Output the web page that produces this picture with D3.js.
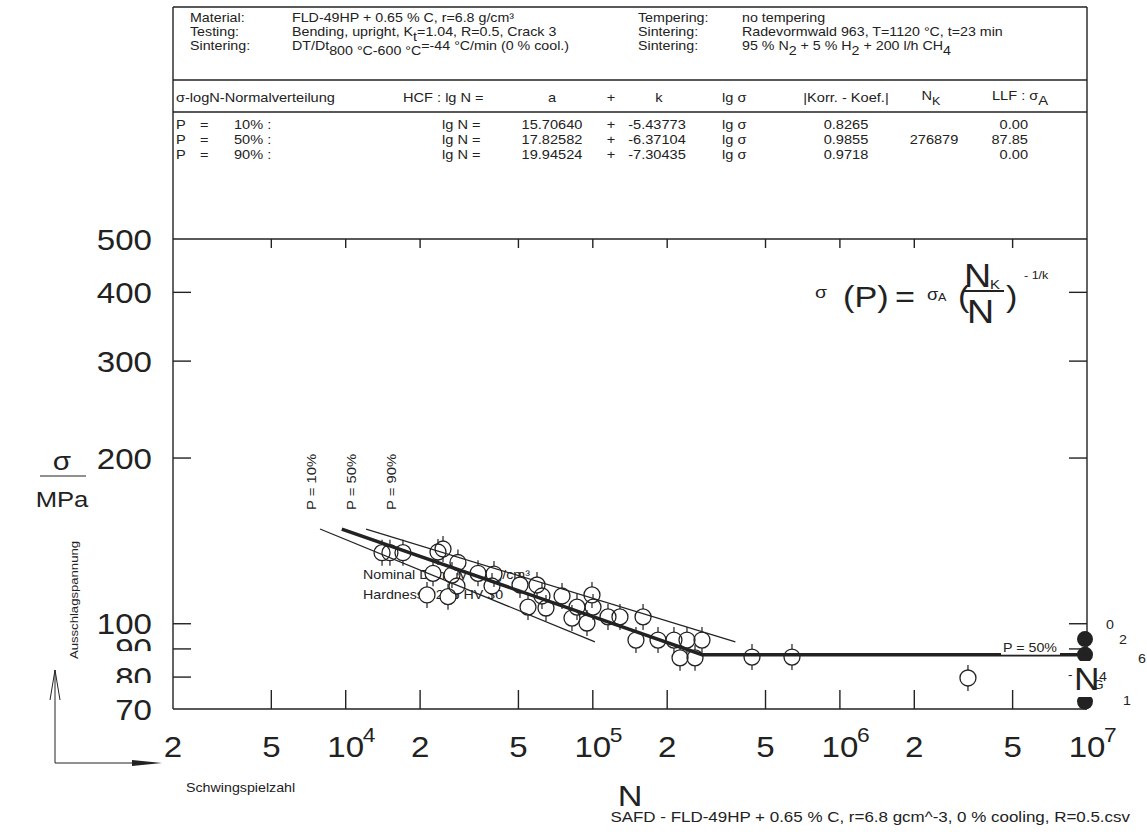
<!DOCTYPE html>
<html>
<head>
<meta charset="utf-8">
<script src="https://cdn.jsdelivr.net/npm/d3@7"></script>
<style>
body { margin: 0; background: #fff; }
svg { display: block; font-family: "Liberation Sans", Arial, sans-serif; }
text { fill: #222; }
</style>
</head>
<body>
<svg id="chart" width="1147" height="834"></svg>
<script>
// test results (N = cycles to failure, stress amplitude in MPa)
const cycles = [14030, 15100, 17050, 23630, 24760, 28460, 22560, 26920, 28200, 21330,
	25940, 34310, 39820, 39090, 50740, 59450, 62270, 54670, 64640, 75060,
	86300, 82350, 94720, 99230, 100200, 115200, 128800, 159700, 149500, 183600,
	213000, 240500, 276600, 225400, 259200, 440800, 639800, 3298000];
const stress = [134.6, 134.6, 134.6, 135.0, 136.7, 129.2, 123.5, 122.6, 117.1, 112.8,
	112.0, 123.5, 123.1, 117.1, 117.6, 117.6, 112.3, 107.2, 106.8, 112.3,
	107.2, 102.4, 100.3, 112.8, 107.2, 102.9, 102.9, 102.9, 93.4, 93.4,
	93.4, 93.4, 93.4, 86.7, 86.7, 87.0, 87.0, 79.7];

// runouts at N_G = 1e7
const runoutCycles = [1e7, 1e7, 1e7];
const runoutStress = [93.8, 87.85, 72.2];
const countLabels = ["0", "2", "6", "4", "1"];
const countStress = [100, 93.8, 86.6, 80.3, 72.6];

// S-N lines for P = 10 / 50 / 90 %
const p10Line = [{n: 7870, s: 148.6}, {n: 102000, s: 92.7}];
const p50Line = [{n: 9640, s: 148.6}, {n: 276879, s: 87.85}, {n: 1e7, s: 87.85}];
const p90Line = [{n: 12090, s: 148.6}, {n: 377600, s: 92.7}];
const probLabels = ["P = 10%", "P = 50%", "P = 90%"];
const probLabelCycles = [7580, 11000, 15980];

// regression table
const probs = ["10%", "50%", "90%"];
const coefA = ["15.70640", "17.82582", "19.94524"];
const coefK = ["-5.43773", "-6.37104", "-7.30435"];
const corr = ["0.8265", "0.9855", "0.9718"];
const kneeN = ["", "276879", ""];
const llf = ["0.00", "87.85", "0.00"];

// axes (minor labels first, as the original paints them)
const yTicks = [90, 80, 70, 100, 200, 300, 400, 500];
const xTicks = [2e3, 5e3, 1e4, 2e4, 5e4, 1e5, 2e5, 5e5, 1e6, 2e6, 5e6, 1e7];
const xTickText = ["2", "5", "10", "2", "5", "10", "2", "5", "10", "2", "5", "10"];
const xTickExp = ["", "", "4", "", "", "5", "", "", "6", "", "", "7"];

const SX = 1.14; // glyphs in the original are a bit wider than Arial

const x = d3.scaleLog().domain([2e3, 1e7]).range([173, 1087]);
const y = d3.scaleLog().domain([70, 500]).range([709, 239]);

const svg = d3.select("#chart");
const ink = "#222";

function rich(g, px, py, parts, size, anchor = "start", sx = SX) {
	const t = g.append("text")
		.attr("transform", `translate(${px},${py}) scale(${sx},1)`)
		.attr("font-size", size)
		.attr("text-anchor", anchor);
	let shift = 0;
	parts.forEach(p => {
		const o = typeof p === "string" ? {t: p} : p;
		const target = o.sub ? size * 0.42 : (o.sup ? -size * 0.45 : 0);
		const span = t.append("tspan").attr("dy", target - shift).text(o.t);
		if (o.size) span.attr("font-size", o.size);
		shift = target;
	});
	return t;
}

function hline(x1, x2, yy, w = 1.4) {
	svg.append("line").attr("x1", x1).attr("x2", x2).attr("y1", yy).attr("y2", yy)
		.attr("stroke", ink).attr("stroke-width", w);
}
function vline(xx, y1, y2, w = 1.4) {
	svg.append("line").attr("x1", xx).attr("x2", xx).attr("y1", y1).attr("y2", y2)
		.attr("stroke", ink).attr("stroke-width", w);
}

// ---- header box
const head = svg.append("g");
hline(173, 1087, 7);
hline(173, 1087, 80);
hline(173, 1087, 112);
vline(173, 7, 709);
vline(1087, 7, 709);

const hs = 12.5;
const rowsY = [22, 36, 50];
["Material:", "Testing:", "Sintering:"].forEach((s, i) => rich(head, 190, rowsY[i], [s], hs));
[
	["FLD-49HP + 0.65 % C, r=6.8 g/cm³"],
	["Bending, upright, K", {t: "t", sub: true}, "=1.04, R=0.5, Crack 3"],
	["DT/Dt", {t: "800 °C-600 °C", sub: true}, "=-44 °C/min (0 % cool.)"]
].forEach((p, i) => rich(head, 292, rowsY[i], p, hs));
["Tempering:", "Sintering:", "Sintering:"].forEach((s, i) => rich(head, 638, rowsY[i], [s], hs));
[
	["no tempering"],
	["Radevormwald 963, T=1120 °C, t=23 min"],
	["95 % N", {t: "2", sub: true}, " + 5 % H", {t: "2", sub: true}, " + 200 l/h CH", {t: "4", sub: true}]
].forEach((p, i) => rich(head, 742, rowsY[i], p, hs));

// ---- regression table
const ts = 12.8;
rich(head, 176, 102, ["σ-logN-Normalverteilung"], ts);
rich(head, 403, 102, ["HCF :  lg N  ="], ts);
rich(head, 552, 102, ["a"], ts, "middle");
rich(head, 611, 102, ["+"], ts, "middle");
rich(head, 659, 102, ["k"], ts, "middle");
rich(head, 722, 102, ["lg σ"], ts);
rich(head, 846, 102, ["|Korr. - Koef.|"], ts, "middle");
rich(head, 931, 100, ["N", {t: "K", size: 11, sub: true}], ts, "middle");
rich(head, 992, 100, ["LLF : σ", {t: "A", size: 13, sub: true}], ts);

const tabY = [129, 144, 159];
probs.forEach((p, i) => {
	rich(head, 176, tabY[i], ["P"], ts);
	rich(head, 200, tabY[i], ["="], ts);
	rich(head, 234, tabY[i], [p + " :"], ts);
	rich(head, 442, tabY[i], ["lg N  ="], ts);
	rich(head, 552, tabY[i], [coefA[i]], ts, "middle");
	rich(head, 611, tabY[i], ["+"], ts, "middle");
	rich(head, 657, tabY[i], [coefK[i]], ts, "middle");
	rich(head, 722, tabY[i], ["lg σ"], ts);
	rich(head, 846, tabY[i], [corr[i]], ts, "middle");
	rich(head, 934, tabY[i], [kneeN[i]], ts, "middle");
	rich(head, 1028, tabY[i], [llf[i]], ts, "end");
});

// ---- plot frame and ticks
hline(173, 1087, y(500));
hline(173, 1087, y(70));
yTicks.filter(v => v !== 500 && v !== 70).forEach(v => {
	hline(173, 191, y(v));
	hline(1069, 1087, y(v));
});
xTicks.filter(v => v !== 2e3 && v !== 1e7).forEach(v => {
	vline(x(v), y(500), y(500) + 9);
	vline(x(v), y(70), y(70) - 19);
});

const axisText = svg.append("g");
yTicks.forEach(v => {
	axisText.append("rect").attr("x", 92).attr("y", y(v) - 26).attr("width", 64).attr("height", 39)
		.attr("fill", "#fff");
	rich(axisText, 152, y(v) + 10.5, [String(v)], 29, "end");
});
xTicks.forEach((v, i) => {
	rich(axisText, x(v), 757, [xTickText[i]], 29, "middle");
	if (xTickExp[i]) rich(axisText, x(v) + 17, 742, [xTickExp[i]], 20);
});

// ---- axis titles
rich(axisText, 62, 470, ["σ"], 26, "middle");
hline(40, 86, 476, 1.2);
rich(axisText, 62, 507, ["MPa"], 22.5, "middle");
axisText.append("text")
	.attr("transform", `translate(78,600) rotate(-90) scale(${SX},1)`)
	.attr("font-size", 11.5).attr("text-anchor", "middle")
	.text("Ausschlagspannung");
vline(55, 670, 763, 1);
svg.append("path").attr("d", "M50,700 L55,670 L60,700").attr("fill", "none").attr("stroke", ink).attr("stroke-width", 1);
hline(55, 150, 763, 1);
svg.append("path").attr("d", "M132,760 L162,763 L132,766 Z").attr("fill", ink);
rich(axisText, 186, 792, ["Schwingspielzahl"], 12.5);
rich(axisText, 630, 806, ["N"], 30, "middle");
rich(axisText, 1130, 822, ["SAFD - FLD-49HP + 0.65 % C, r=6.8 gcm^-3, 0 % cooling, R=0.5.csv"], 14.5, "end", 1.17);

// ---- formula
const f = svg.append("g");
rich(f, 815, 298, ["σ"], 17);
rich(f, 843, 307, ["(P)"], 30);
rich(f, 895, 307, ["="], 30);
rich(f, 927, 300, ["σ"], 16);
rich(f, 938, 301, ["A"], 11);
rich(f, 958, 307, ["("], 30);
rich(f, 964, 287, ["N"], 33);
rich(f, 990, 289, ["K"], 13);
svg.append("line").attr("x1", 963).attr("x2", 1004).attr("y1", 291).attr("y2", 291)
	.attr("stroke", ink).attr("stroke-width", 2);
rich(f, 967, 323, ["N"], 33);
rich(f, 1006, 307, [")"], 30);
rich(f, 1024, 279, ["- 1/k"], 11);

// ---- annotation behind data
rich(axisText, 363, 579, ["Nominal Density 6.8 g/cm³"], 12.5);
rich(axisText, 363, 599, ["Hardness : 226 HV 30"], 12.5);

// ---- data points
const pts = cycles.map((n, i) => ({n, s: stress[i]}));
const dots = svg.append("g");
dots.selectAll("circle.bg").data(pts).join("circle").attr("class", "bg")
	.attr("cx", d => x(d.n)).attr("cy", d => y(d.s)).attr("r", 8)
	.attr("fill", "#fff");
dots.selectAll("path.whisk").data(pts).join("path").attr("class", "whisk")
	.attr("d", d => `M${x(d.n)},${y(d.s) - 13}V${y(d.s) - 8}M${x(d.n)},${y(d.s) + 8}V${y(d.s) + 13}`)
	.attr("stroke", ink).attr("stroke-width", 1.2);
dots.selectAll("circle.ring").data(pts).join("circle").attr("class", "ring")
	.attr("cx", d => x(d.n)).attr("cy", d => y(d.s)).attr("r", 8)
	.attr("fill", "none").attr("stroke", ink).attr("stroke-width", 1.3);

const runouts = runoutCycles.map((n, i) => ({n, s: runoutStress[i]}));
dots.selectAll("circle.runout").data(runouts).join("circle").attr("class", "runout")
	.attr("cx", d => x(d.n) - 2).attr("cy", d => y(d.s)).attr("r", 8)
	.attr("fill", ink);

// ---- S-N lines
const line = d3.line().x(d => x(d.n)).y(d => y(d.s));
svg.selectAll("path.sn").data([p10Line, p90Line]).join("path").attr("class", "sn")
	.attr("d", line).attr("fill", "none").attr("stroke", ink).attr("stroke-width", 1.2);
svg.append("path").datum(p50Line).attr("d", line)
	.attr("fill", "none").attr("stroke", ink).attr("stroke-width", 3.5);

probLabels.forEach((t, i) => {
	svg.append("text")
		.attr("transform", `translate(${x(probLabelCycles[i])},510) rotate(-90) scale(${SX},1)`)
		.attr("font-size", 13).text(t);
});

// label on the endurance line
svg.append("rect").attr("x", 1001).attr("y", 640).attr("width", 59).attr("height", y(87.85) - 640)
	.attr("fill", "#fff");
rich(svg, 1003, 652, ["P = 50%"], 12.5);

// N_G label and runout counts
svg.append("rect").attr("x", 1064).attr("y", 661).attr("width", 44).attr("height", 36).attr("fill", "#fff");
rich(svg, 1068, 679, ["-"], 12);
rich(svg, 1074, 690, ["N"], 31);
rich(svg, 1093, 689, ["G"], 12);
const countDx = [23, 36, 55, 16, 40];
countLabels.forEach((c, i) => rich(svg, x(1e7) + countDx[i], y(countStress[i]) + 5, [c], 12.5, "middle"));
</script>
</body>
</html>
